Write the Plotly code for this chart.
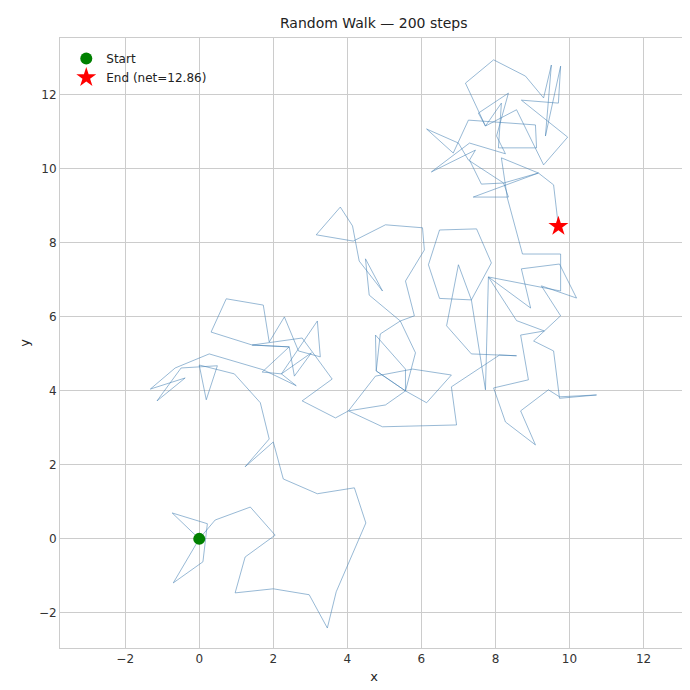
import plotly.graph_objects as go

# walk vertices (approximate)
walk_x = [0, -0.73, 0.22, 0.1, -0.7, 0, 0.43, 1.38, 2.05, 1.24, 0.97, 2.0, 2.97, 3.46, 3.7, 4.5,
          4.19, 3.19, 2.27, 2.0, 1.24, 1.89, 1.65, 0.95, 0, 0.19, 0.49, -0.49, -1.14, -0.38, -1.32,
          -0.65, 0.27, 1.73, 2.62, 2.22, 3.03, 2.57, 2.43, 1.43, 2.43, 1.7, 2.22, 3.19, 3.27,
          2.68, 2.3, 1.89, 1.73, 0.73, 0.32, 1.43, 2.78, 3.59, 2.78, 3.68, 4.03, 5.03, 5.57,
          4.78, 4.76, 5.57, 5.57, 4.78, 4.89, 5.43, 4.59, 4.49, 4.95, 4.32, 4.14, 3.81, 3.16,
          4.16, 5.03, 6.03, 6.08, 5.57, 5.81, 5.43, 5.84, 5.57, 6.14, 6.81, 5.76, 4.76, 4.03,
          4.95, 6.95, 6.81, 8.11, 8.57, 7.35, 6.68, 7.0, 7.35, 6.49, 6.19, 6.49, 7.49, 7.89,
          7.35, 7.73, 7.81, 8.57, 9.32, 8.68, 8.89, 7.95, 8.27, 9.08, 8.68, 9.43, 9.73, 10.73,
          9.73, 9.57, 9.03, 9.76, 9.24, 10.19, 9.73, 8.7, 8.95, 7.81, 9.76, 9.76, 8.73, 8.32,
          8.16, 9.16, 7.4, 8.35, 8.22, 7.62, 7.3, 7.46, 6.27, 7.3, 8.27, 8.03, 8.35, 7.54,
          7.73, 8.57, 9.3, 9.95, 8.7, 9.7, 9.76, 9.35, 9.51, 9.3, 8.81, 7.95, 7.19, 7.73,
          8.16, 8.08, 9.11, 9.08, 7.27, 6.86, 6.14, 7.0, 7.27, 8.22, 9.16, 9.57, 9.7]
walk_y = [0, 0.7, 0.41, -0.62, -1.19, 0, 0.51, 0.86, 0.1, -0.49, -1.46, -1.35, -1.51, -2.41,
          -1.43, 0.43, 1.38, 1.22, 1.62, 2.62, 1.95, 2.7, 3.68, 4.46, 4.7, 3.76, 4.68, 4.62,
          3.73, 4.35, 4.05, 4.62, 5.0, 4.57, 4.14, 4.46, 5.03, 4.4, 5.19, 5.24, 5.19, 4.51,
          4.46, 5.89, 4.92, 5.08, 6.0, 5.32, 6.32, 6.49, 5.59, 5.24, 5.43, 4.32, 3.73, 3.27,
          3.46, 3.62, 4.0, 4.54, 5.51, 4.59, 4.0, 4.54, 5.54, 5.89, 6.59, 7.57, 6.7, 7.51,
          8.46, 8.97, 8.22, 8.05, 8.49, 8.41, 7.81, 6.97, 6.03, 5.89, 5.03, 4.0, 3.68, 4.43,
          4.59, 4.4, 3.46, 3.03, 3.08, 4.11, 4.97, 4.95, 5.0, 5.76, 7.41, 6.46, 6.5, 7.41,
          8.35, 8.38, 7.46, 6.46, 4.03, 7.08, 5.9, 5.62, 5.51, 4.3, 4.08, 3.16, 2.54, 3.46,
          4.03, 3.84, 3.89, 3.8, 5.08, 5.35, 6.03, 6.84, 6.51, 7.43, 7.3, 6.24, 7.08, 6.7,
          7.7, 7.7, 9.22, 10.3, 9.89, 9.24, 9.24, 9.62, 9.59, 10.24, 10.51, 9.92, 10.7,
          10.41, 10.89, 12.05, 11.51, 11.16, 11.6, 10.11, 10.86, 11.86, 11.78, 12.78, 10.89,
          12.81, 11.92, 12.51, 12.95, 12.32, 11.16, 11.78, 10.57, 10.57, 11.19, 11.32, 10.43,
          11.08, 10.7, 10.24, 9.62, 9.89, 9.57, 8.45]

fig = go.Figure()
fig.add_trace(go.Scatter(x=walk_x, y=walk_y, mode="lines", showlegend=False,
                         line=dict(color="rgba(70,130,180,0.7)", width=0.8)))
fig.add_trace(go.Scatter(x=[walk_x[0]], y=[walk_y[0]], mode="markers", name="Start",
                         marker=dict(color="green", size=12)))
fig.add_trace(go.Scatter(x=[walk_x[-1]], y=[walk_y[-1]], mode="markers", name="End (net=12.86)",
                         marker=dict(color="red", size=15, symbol="star", line=dict(width=0))))

axis = dict(showgrid=True, gridcolor="#cccccc", zeroline=False, showline=True, linecolor="#cccccc",
            mirror=True, ticks="", tickfont=dict(size=12, color="#333"), dtick=2, automargin=False)
fig.update_layout(
    width=690, height=690, plot_bgcolor="white", paper_bgcolor="white",
    font=dict(family="DejaVu Sans", color="#222"),
    title=dict(text="Random Walk — 200 steps", x=0.53, y=0.985, font=dict(size=14)),
    margin=dict(l=52, r=10, t=30, b=50),
    legend=dict(x=0.01, y=0.99, bgcolor="rgba(0,0,0,0)", font=dict(size=12)),
    xaxis=dict(axis, range=[-3.76, 13.2], title=dict(text="x", font=dict(size=13), standoff=6)),
    yaxis=dict(axis, range=[-2.95, 13.54], title=dict(text="y", font=dict(size=13), standoff=6)),
)
fig.write_html("out.html")
